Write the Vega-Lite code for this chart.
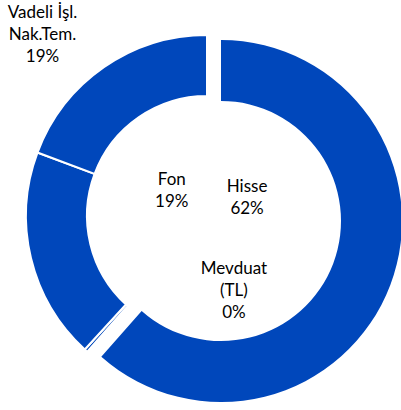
{
  "$schema": "https://vega.github.io/schema/vega-lite/v6.json",
  "autosize": "none",
  "width": 388,
  "height": 388,
  "padding": {"left": 13, "top": 22, "right": 0, "bottom": 0},
  "background": "white",
  "config": {"view": {"stroke": null}},
  "data": {
    "values": [
      {"cat": "Hisse", "label": "Hisse\n62%", "value": 61.5, "rank": 1},
      {"cat": "Mevduat (TL)", "label": "Mevduat\n(TL)\n0%", "value": 0.3, "rank": 2},
      {"cat": "Fon", "label": "Fon\n19%", "value": 18.9, "rank": 3},
      {"cat": "Vadeli İşl. Nak.Tem.", "label": "Vadeli İşl.\nNak.Tem.\n19%", "value": 19.3, "rank": 4}
    ]
  },
  "encoding": {
    "theta": {"field": "value", "type": "quantitative", "stack": true},
    "order": {"field": "rank", "type": "quantitative"}
  },
  "layer": [
    {
      "mark": {"type": "arc", "outerRadius": 181, "innerRadius": 120, "stroke": "white", "strokeWidth": 2, "fill": "#0047BB"},
      "encoding": {"opacity": {"condition": {"test": "datum.cat === 'Hisse'", "value": 0}, "value": 1}}
    },
    {
      "mark": {"type": "arc", "outerRadius": 181, "innerRadius": 120, "xOffset": 14, "yOffset": 5, "fill": "#0047BB"},
      "encoding": {"opacity": {"condition": {"test": "datum.cat === 'Hisse'", "value": 1}, "value": 0}}
    },
    {
      "mark": {"type": "text", "radius": 30, "dx": 12, "dy": -40, "font": "Lato", "fontSize": 17, "lineBreak": "\n", "lineHeight": 22, "align": "center", "baseline": "middle", "color": "#000000"},
      "encoding": {"text": {"condition": {"test": "datum.cat === 'Hisse'", "field": "label", "type": "nominal"}, "value": ""}}
    },
    {
      "mark": {"type": "text", "radius": 28, "dx": -8, "dy": -43, "font": "Lato", "fontSize": 17, "lineBreak": "\n", "lineHeight": 22, "align": "center", "baseline": "middle", "color": "#000000"},
      "encoding": {"text": {"condition": {"test": "datum.cat === 'Fon'", "field": "label", "type": "nominal"}, "value": ""}}
    },
    {
      "mark": {"type": "text", "radius": 36, "dx": 51, "dy": 26, "font": "Lato", "fontSize": 17, "lineBreak": "\n", "lineHeight": 22, "align": "center", "baseline": "middle", "color": "#000000"},
      "encoding": {"text": {"condition": {"test": "datum.cat === 'Mevduat (TL)'", "field": "label", "type": "nominal"}, "value": ""}}
    },
    {
      "mark": {"type": "text", "radius": 243, "dx": -26, "dy": -3, "font": "Lato", "fontSize": 17, "lineBreak": "\n", "lineHeight": 22, "align": "center", "baseline": "middle", "color": "#000000"},
      "encoding": {"text": {"condition": {"test": "datum.cat === 'Vadeli İşl. Nak.Tem.'", "field": "label", "type": "nominal"}, "value": ""}}
    }
  ]
}
